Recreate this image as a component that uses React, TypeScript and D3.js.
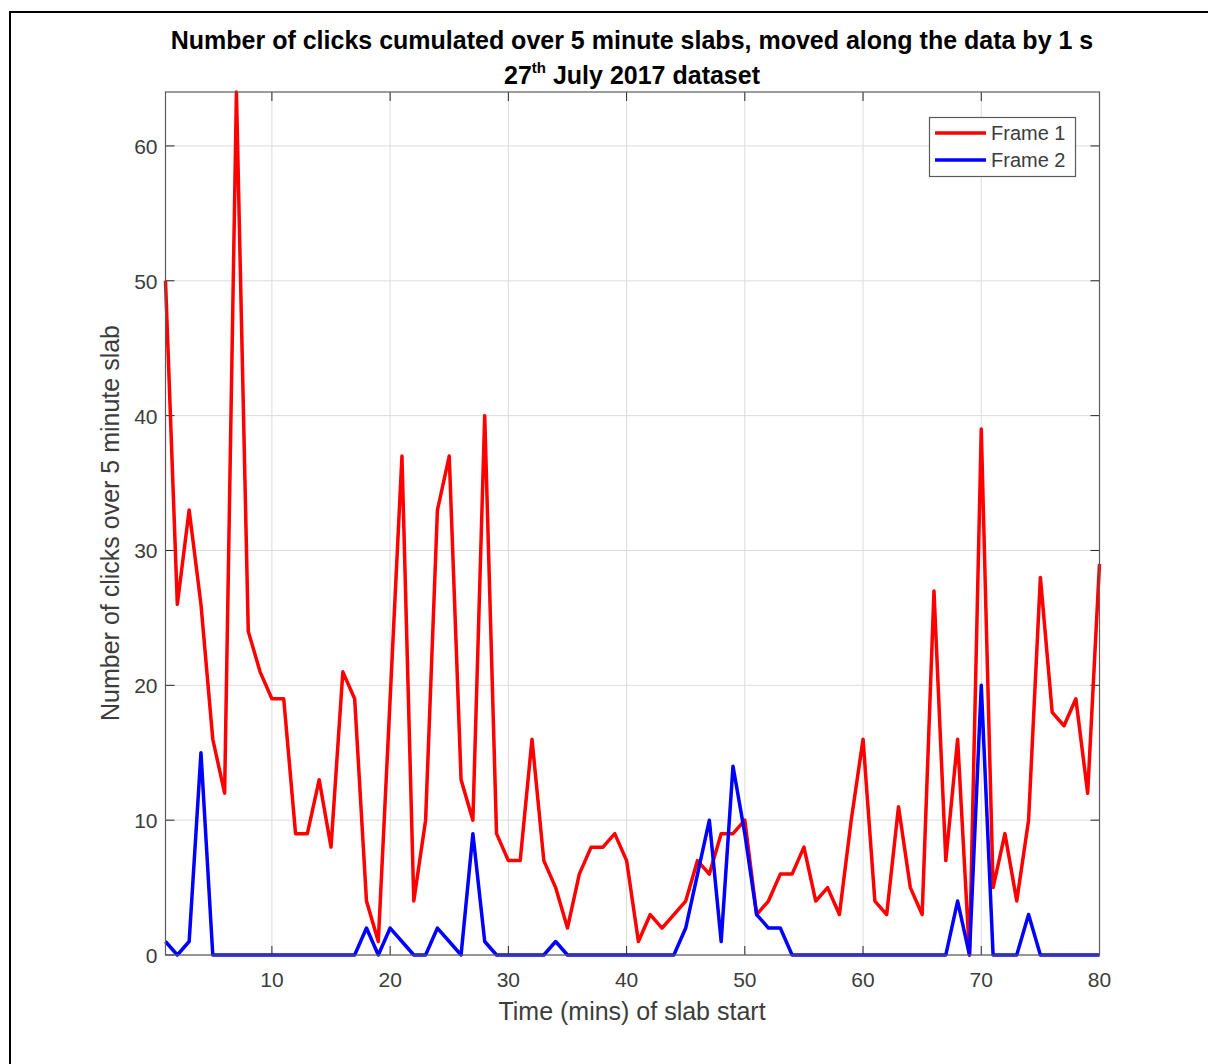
import React from "react";
import * as d3 from "d3";

// Start time (minutes) of each 5-minute slab
const minutes: number[] = d3.range(1, 81);

// Clicks counted in each slab, per frame
const frame1: number[] = [
  50, 26, 33, 26, 16, 12, 64, 24, 21, 19,
  19, 9, 9, 13, 8, 21, 19, 4, 1, 19,
  37, 4, 10, 33, 37, 13, 10, 40, 9, 7,
  7, 16, 7, 5, 2, 6, 8, 8, 9, 7,
  1, 3, 2, 3, 4, 7, 6, 9, 9, 10,
  3, 4, 6, 6, 8, 4, 5, 3, 10, 16,
  4, 3, 11, 5, 3, 27, 7, 16, 0, 39,
  5, 9, 4, 10, 28, 18, 17, 19, 12, 29,
];

const frame2: number[] = [
  1, 0, 1, 15, 0, 0, 0, 0, 0, 0,
  0, 0, 0, 0, 0, 0, 0, 2, 0, 2,
  1, 0, 0, 2, 1, 0, 9, 1, 0, 0,
  0, 0, 0, 1, 0, 0, 0, 0, 0, 0,
  0, 0, 0, 0, 2, 6, 10, 1, 14, 9,
  3, 2, 2, 0, 0, 0, 0, 0, 0, 0,
  0, 0, 0, 0, 0, 0, 0, 4, 0, 20,
  0, 0, 0, 3, 0, 0, 0, 0, 0, 0,
];

const xTicks: number[] = [10, 20, 30, 40, 50, 60, 70, 80];
const yTicks: number[] = [0, 10, 20, 30, 40, 50, 60];

const seriesNames: string[] = ["Frame 1", "Frame 2"];
const seriesColors: string[] = ["#ff0000", "#0000ff"];

const W = 1208;
const H = 1064;
const plot = { left: 165.5, right: 1099.5, top: 92, bottom: 955 };
const FONT = "'Liberation Sans', Arial, Helvetica, sans-serif";
const AXIS = "#262626";
const TEXT = "#3c3c3c";

export default function App() {
  const x = d3.scaleLinear().domain([1, 80]).range([plot.left, plot.right]);
  const y = d3.scaleLinear().domain([0, 64]).range([plot.bottom, plot.top]);
  const line = d3
    .line<number>()
    .x((_, i) => x(minutes[i]))
    .y((d) => y(d));

  const series = [frame1, frame2];
  const tickLen = 9;

  return (
    <svg
      width={W}
      height={H}
      style={{ position: "absolute", left: 0, top: 0, background: "#fff" }}
      fontFamily={FONT}
    >
      {/* figure frame */}
      <rect x={10} y={12} width={1400} height={1200} fill="#fff" stroke="#000" strokeWidth={2} />

      {/* grid */}
      <g stroke="#dcdcdc" strokeWidth={1}>
        {xTicks.map((t) => (
          <line key={"gx" + t} x1={x(t)} x2={x(t)} y1={plot.top} y2={plot.bottom} />
        ))}
        {yTicks.map((t) => (
          <line key={"gy" + t} x1={plot.left} x2={plot.right} y1={y(t)} y2={y(t)} />
        ))}
      </g>

      {/* tick marks on all four sides */}
      <g stroke={AXIS} strokeWidth={1}>
        {xTicks.map((t) => (
          <g key={"tx" + t}>
            <line x1={x(t)} x2={x(t)} y1={plot.bottom} y2={plot.bottom - tickLen} />
            <line x1={x(t)} x2={x(t)} y1={plot.top} y2={plot.top + tickLen} />
          </g>
        ))}
        {yTicks.map((t) => (
          <g key={"ty" + t}>
            <line x1={plot.left} x2={plot.left + tickLen} y1={y(t)} y2={y(t)} />
            <line x1={plot.right} x2={plot.right - tickLen} y1={y(t)} y2={y(t)} />
          </g>
        ))}
      </g>

      {/* data lines */}
      {series.map((s, k) => (
        <path
          key={seriesNames[k]}
          d={line(s) || ""}
          fill="none"
          stroke={seriesColors[k]}
          strokeWidth={3.5}
          strokeLinejoin="round"
        />
      ))}

      {/* axes box */}
      <rect
        x={plot.left}
        y={plot.top}
        width={plot.right - plot.left}
        height={plot.bottom - plot.top}
        fill="none"
        stroke="#5a5a5a"
        strokeWidth={1.2}
      />

      {/* tick labels */}
      <g fill={TEXT} fontSize={21}>
        {xTicks.map((t) => (
          <text key={"lx" + t} x={x(t)} y={plot.bottom + 32} textAnchor="middle">
            {t}
          </text>
        ))}
        {yTicks.map((t) => (
          <text key={"ly" + t} x={plot.left - 8} y={y(t) + 8} textAnchor="end">
            {t}
          </text>
        ))}
      </g>

      {/* axis labels */}
      <text x={632} y={1020} textAnchor="middle" fontSize={25} fill={TEXT}>
        Time (mins) of slab start
      </text>
      <text
        transform={`translate(119, 523) rotate(-90)`}
        textAnchor="middle"
        fontSize={25}
        fill={TEXT}
      >
        Number of clicks over 5 minute slab
      </text>

      {/* title */}
      <g fontWeight="bold" fill="#000" fontSize={25} textAnchor="middle">
        <text x={632} y={49}>
          Number of clicks cumulated over 5 minute slabs, moved along the data by 1 s
        </text>
        <text x={632} y={84}>
          27<tspan fontSize={15} dy={-11}>th</tspan>
          <tspan dy={11}> July 2017 dataset</tspan>
        </text>
      </g>

      {/* legend */}
      <g>
        <rect x={929.5} y={117.5} width={146} height={59} fill="#fff" stroke="#5a5a5a" strokeWidth={1.2} />
        {seriesNames.map((n, k) => (
          <g key={"lg" + n}>
            <line
              x1={935}
              x2={986}
              y1={133 + k * 27}
              y2={133 + k * 27}
              stroke={seriesColors[k]}
              strokeWidth={3.5}
            />
            <text x={991} y={140 + k * 27} fontSize={20} fill={TEXT}>
              {n}
            </text>
          </g>
        ))}
      </g>
    </svg>
  );
}
